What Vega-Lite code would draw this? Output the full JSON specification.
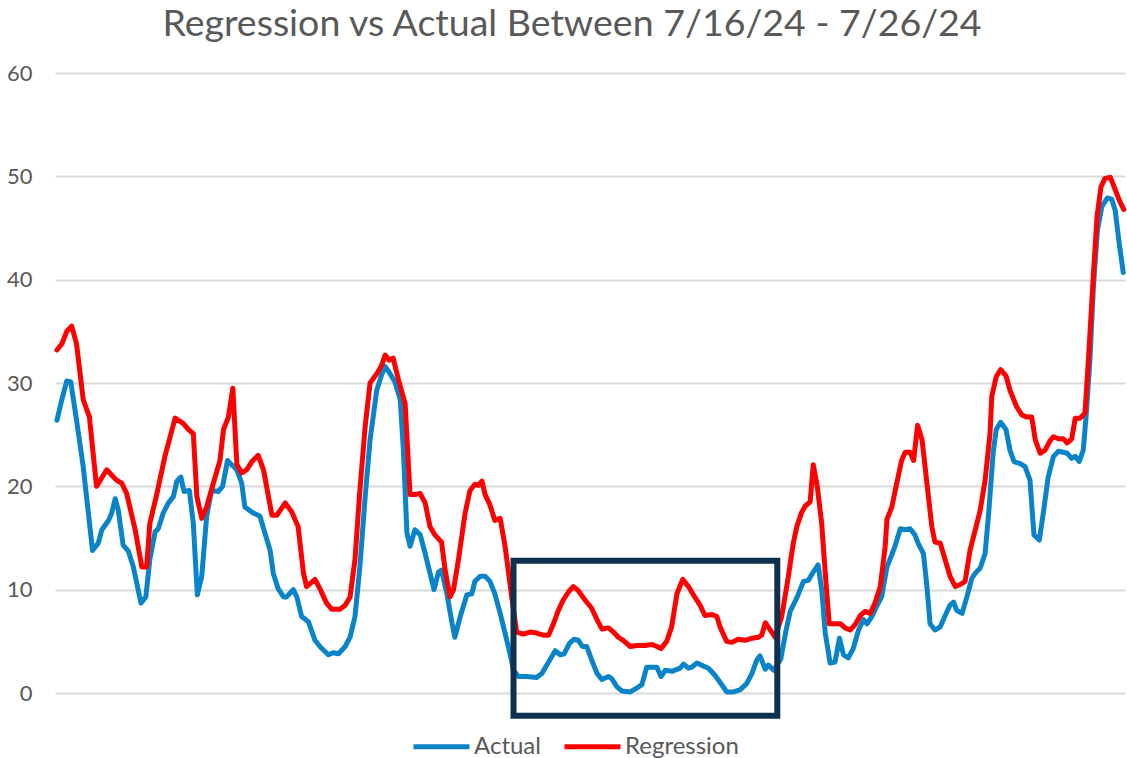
{
  "$schema": "https://vega.github.io/schema/vega-lite/v6.json",
  "width": 1070,
  "height": 620,
  "autosize": {"type": "none"},
  "padding": {"left": 55, "top": 73, "right": 2, "bottom": 65},
  "title": {
    "text": "Regression vs Actual Between 7/16/24 - 7/26/24",
    "font": "Lato",
    "fontSize": 37.5,
    "fontWeight": "normal",
    "color": "#595959",
    "anchor": "middle",
    "dx": -18,
    "offset": 19
  },
  "config": {
    "view": {"stroke": null},
    "font": "Lato"
  },
  "datasets": {
    "actual": [
      {"t":0,"v":26.4},{"t":1.1,"v":28.4},{"t":2.2,"v":30.2},{"t":3.1,"v":30.1},{"t":4.4,"v":26.4},{"t":5.9,"v":21.9},{"t":8.0,"v":13.8},{"t":9.3,"v":14.5},{"t":10.1,"v":15.8},{"t":11.6,"v":16.7},{"t":12.3,"v":17.4},{"t":13.1,"v":18.8},{"t":13.8,"v":17.7},{"t":14.9,"v":14.3},{"t":16.1,"v":13.7},{"t":17.2,"v":12.2},{"t":18.9,"v":8.7},{"t":20.0,"v":9.3},{"t":20.9,"v":12.9},{"t":22.1,"v":15.6},{"t":22.8,"v":15.9},{"t":23.9,"v":17.4},{"t":25.1,"v":18.4},{"t":26.2,"v":19.0},{"t":27.0,"v":20.5},{"t":27.9,"v":20.9},{"t":28.6,"v":19.5},{"t":29.8,"v":19.6},{"t":30.7,"v":16.4},{"t":31.6,"v":9.5},{"t":32.6,"v":11.3},{"t":33.7,"v":17.1},{"t":34.8,"v":19.6},{"t":36.3,"v":19.5},{"t":37.3,"v":20.0},{"t":38.4,"v":22.5},{"t":39.3,"v":22.1},{"t":40.5,"v":21.6},{"t":41.6,"v":20.3},{"t":42.3,"v":18.0},{"t":43.9,"v":17.5},{"t":45.7,"v":17.1},{"t":46.8,"v":15.5},{"t":48.0,"v":13.8},{"t":48.7,"v":11.6},{"t":49.8,"v":10.1},{"t":51.0,"v":9.3},{"t":51.7,"v":9.3},{"t":53.2,"v":10.0},{"t":54.0,"v":9.3},{"t":55.1,"v":7.4},{"t":56.6,"v":6.9},{"t":58.1,"v":5.1},{"t":59.2,"v":4.5},{"t":61.1,"v":3.7},{"t":62.2,"v":3.9},{"t":63.4,"v":3.8},{"t":64.9,"v":4.5},{"t":66.0,"v":5.4},{"t":67.1,"v":7.4},{"t":68.2,"v":12.2},{"t":69.4,"v":19.0},{"t":70.5,"v":24.5},{"t":72.0,"v":29.3},{"t":73.1,"v":30.8},{"t":73.9,"v":31.6},{"t":75.0,"v":30.9},{"t":76.1,"v":30.1},{"t":77.3,"v":28.4},{"t":78.0,"v":23.5},{"t":78.8,"v":15.5},{"t":79.5,"v":14.2},{"t":80.6,"v":15.8},{"t":81.8,"v":15.3},{"t":82.9,"v":13.5},{"t":84.0,"v":11.6},{"t":84.9,"v":10.0},{"t":85.9,"v":11.7},{"t":86.6,"v":11.9},{"t":87.8,"v":9.6},{"t":88.9,"v":6.9},{"t":89.6,"v":5.4},{"t":90.8,"v":7.4},{"t":92.3,"v":9.5},{"t":93.4,"v":9.6},{"t":94.1,"v":10.8},{"t":95.3,"v":11.3},{"t":96.4,"v":11.3},{"t":97.5,"v":10.8},{"t":98.6,"v":9.6},{"t":99.8,"v":7.7},{"t":100.9,"v":5.8},{"t":102.0,"v":3.8},{"t":102.8,"v":2.2},{"t":103.9,"v":1.6},{"t":105.8,"v":1.6},{"t":108.0,"v":1.5},{"t":109.2,"v":1.9},{"t":110.3,"v":2.7},{"t":111.4,"v":3.5},{"t":112.2,"v":4.1},{"t":113.3,"v":3.7},{"t":114.2,"v":3.8},{"t":115.4,"v":4.8},{"t":116.4,"v":5.2},{"t":117.4,"v":5.1},{"t":118.3,"v":4.5},{"t":119.3,"v":4.5},{"t":120.4,"v":3.2},{"t":121.6,"v":1.9},{"t":122.7,"v":1.3},{"t":124.2,"v":1.6},{"t":124.9,"v":1.4},{"t":126.1,"v":0.6},{"t":127.2,"v":0.2},{"t":129.1,"v":0.1},{"t":130.6,"v":0.5},{"t":131.7,"v":0.8},{"t":132.8,"v":2.5},{"t":134.3,"v":2.5},{"t":135.1,"v":2.5},{"t":136.0,"v":1.6},{"t":137.0,"v":2.2},{"t":138.5,"v":2.1},{"t":140.3,"v":2.4},{"t":141.1,"v":2.8},{"t":142.2,"v":2.4},{"t":142.9,"v":2.5},{"t":144.1,"v":2.9},{"t":145.6,"v":2.6},{"t":146.7,"v":2.4},{"t":148.2,"v":1.7},{"t":149.7,"v":0.8},{"t":150.8,"v":0.1},{"t":152.3,"v":0.1},{"t":153.8,"v":0.3},{"t":155.3,"v":0.9},{"t":156.5,"v":1.9},{"t":157.6,"v":3.2},{"t":158.3,"v":3.6},{"t":159.5,"v":2.3},{"t":160.2,"v":2.7},{"t":161.4,"v":2.2},{"t":163.0,"v":3.3},{"t":164.1,"v":5.9},{"t":165.1,"v":7.9},{"t":166.6,"v":9.2},{"t":168.1,"v":10.8},{"t":169.2,"v":10.9},{"t":170.3,"v":11.7},{"t":171.4,"v":12.4},{"t":172.2,"v":10.0},{"t":173.0,"v":5.8},{"t":174.1,"v":2.9},{"t":175.2,"v":3.0},{"t":176.2,"v":5.3},{"t":177.1,"v":3.7},{"t":178.2,"v":3.4},{"t":179.3,"v":4.3},{"t":180.5,"v":6.1},{"t":181.6,"v":7.1},{"t":182.4,"v":6.7},{"t":183.5,"v":7.4},{"t":184.6,"v":8.4},{"t":185.7,"v":9.3},{"t":186.9,"v":12.2},{"t":188.0,"v":13.4},{"t":188.7,"v":14.2},{"t":189.9,"v":15.9},{"t":191.0,"v":15.8},{"t":192.1,"v":15.9},{"t":193.2,"v":15.3},{"t":193.9,"v":14.5},{"t":195.1,"v":13.5},{"t":195.9,"v":10.3},{"t":196.6,"v":6.7},{"t":197.7,"v":6.1},{"t":198.9,"v":6.4},{"t":200.0,"v":7.5},{"t":201.1,"v":8.5},{"t":201.9,"v":8.8},{"t":202.6,"v":8.0},{"t":203.8,"v":7.7},{"t":204.9,"v":9.3},{"t":206.0,"v":11.1},{"t":206.8,"v":11.6},{"t":207.9,"v":12.1},{"t":209.0,"v":13.5},{"t":209.8,"v":17.4},{"t":210.8,"v":23.2},{"t":211.5,"v":25.5},{"t":212.5,"v":26.2},{"t":213.7,"v":25.5},{"t":214.6,"v":23.5},{"t":215.5,"v":22.4},{"t":216.9,"v":22.2},{"t":218.0,"v":21.9},{"t":219.1,"v":20.6},{"t":220.0,"v":15.3},{"t":221.2,"v":14.8},{"t":222.1,"v":17.4},{"t":223.2,"v":20.9},{"t":224.4,"v":22.9},{"t":225.5,"v":23.4},{"t":226.6,"v":23.3},{"t":227.5,"v":23.2},{"t":228.5,"v":22.7},{"t":229.3,"v":22.9},{"t":230.2,"v":22.4},{"t":231.1,"v":23.5},{"t":231.8,"v":27.1},{"t":232.6,"v":32.2},{"t":233.4,"v":39.4},{"t":234.3,"v":44.8},{"t":235.3,"v":47.1},{"t":236.5,"v":47.9},{"t":237.5,"v":47.8},{"t":238.3,"v":46.7},{"t":239.2,"v":43.5},{"t":240.1,"v":40.7}
    ],
    "regression": [
      {"t":0,"v":33.2},{"t":1.1,"v":33.8},{"t":2.2,"v":35.0},{"t":3.3,"v":35.5},{"t":4.4,"v":33.8},{"t":5.9,"v":28.4},{"t":7.3,"v":26.7},{"t":8.9,"v":20.0},{"t":11.2,"v":21.6},{"t":12.3,"v":21.1},{"t":13.4,"v":20.6},{"t":14.6,"v":20.3},{"t":15.7,"v":19.3},{"t":17.6,"v":15.8},{"t":19.1,"v":12.2},{"t":20.2,"v":12.2},{"t":20.9,"v":16.4},{"t":22.5,"v":19.3},{"t":24.3,"v":22.9},{"t":26.6,"v":26.6},{"t":28.4,"v":26.1},{"t":29.6,"v":25.5},{"t":30.7,"v":25.1},{"t":31.5,"v":19.0},{"t":32.6,"v":16.9},{"t":33.7,"v":18.0},{"t":35.2,"v":20.3},{"t":36.7,"v":22.5},{"t":37.5,"v":25.5},{"t":38.6,"v":26.7},{"t":39.6,"v":29.5},{"t":40.5,"v":22.1},{"t":41.6,"v":21.3},{"t":42.7,"v":21.6},{"t":43.9,"v":22.4},{"t":45.3,"v":23.0},{"t":46.5,"v":21.6},{"t":48.4,"v":17.2},{"t":49.5,"v":17.2},{"t":51.4,"v":18.4},{"t":52.9,"v":17.5},{"t":54.3,"v":16.1},{"t":55.5,"v":11.6},{"t":56.2,"v":10.3},{"t":58.1,"v":11.0},{"t":59.2,"v":10.1},{"t":60.7,"v":8.7},{"t":61.9,"v":8.1},{"t":63.7,"v":8.1},{"t":64.9,"v":8.5},{"t":66.0,"v":9.3},{"t":67.1,"v":12.9},{"t":68.2,"v":19.6},{"t":69.4,"v":25.8},{"t":70.5,"v":30.0},{"t":72.0,"v":30.9},{"t":73.1,"v":31.7},{"t":73.9,"v":32.7},{"t":74.8,"v":32.2},{"t":75.7,"v":32.4},{"t":76.9,"v":30.3},{"t":78.4,"v":28.0},{"t":79.5,"v":19.2},{"t":80.6,"v":19.2},{"t":81.8,"v":19.3},{"t":82.9,"v":18.4},{"t":84.0,"v":16.1},{"t":85.1,"v":15.3},{"t":86.6,"v":14.6},{"t":87.4,"v":11.9},{"t":88.5,"v":9.3},{"t":89.3,"v":10.0},{"t":90.4,"v":12.9},{"t":91.9,"v":17.4},{"t":93.0,"v":19.6},{"t":94.1,"v":20.2},{"t":94.9,"v":20.1},{"t":95.7,"v":20.5},{"t":96.4,"v":19.2},{"t":97.5,"v":18.2},{"t":98.6,"v":16.7},{"t":99.8,"v":16.9},{"t":100.9,"v":14.2},{"t":102.4,"v":9.3},{"t":103.5,"v":5.9},{"t":105.0,"v":5.7},{"t":106.5,"v":5.9},{"t":108.0,"v":5.8},{"t":109.5,"v":5.6},{"t":110.7,"v":5.6},{"t":111.8,"v":6.7},{"t":112.9,"v":8.0},{"t":114.0,"v":9.0},{"t":115.2,"v":9.8},{"t":116.3,"v":10.3},{"t":117.4,"v":9.9},{"t":118.9,"v":9.0},{"t":120.4,"v":8.2},{"t":121.6,"v":7.1},{"t":122.7,"v":6.2},{"t":124.2,"v":6.3},{"t":125.3,"v":5.9},{"t":126.4,"v":5.4},{"t":127.5,"v":5.1},{"t":129.1,"v":4.5},{"t":130.6,"v":4.6},{"t":132.4,"v":4.6},{"t":133.9,"v":4.7},{"t":135.1,"v":4.5},{"t":136.0,"v":4.3},{"t":137.3,"v":5.0},{"t":138.4,"v":6.4},{"t":139.6,"v":9.6},{"t":140.9,"v":11.0},{"t":142.2,"v":10.3},{"t":143.3,"v":9.5},{"t":144.8,"v":8.5},{"t":145.9,"v":7.5},{"t":147.5,"v":7.6},{"t":148.6,"v":7.4},{"t":149.3,"v":6.4},{"t":150.8,"v":5.0},{"t":152.0,"v":4.9},{"t":153.4,"v":5.2},{"t":155.0,"v":5.1},{"t":156.5,"v":5.3},{"t":158.0,"v":5.4},{"t":158.7,"v":5.6},{"t":159.5,"v":6.8},{"t":160.6,"v":6.1},{"t":161.7,"v":5.4},{"t":163.2,"v":7.4},{"t":164.7,"v":11.3},{"t":165.8,"v":14.5},{"t":166.6,"v":16.1},{"t":167.7,"v":17.5},{"t":168.5,"v":18.1},{"t":169.6,"v":18.5},{"t":170.3,"v":22.1},{"t":171.2,"v":20.0},{"t":172.2,"v":16.4},{"t":173.0,"v":11.6},{"t":173.9,"v":6.7},{"t":175.2,"v":6.7},{"t":176.4,"v":6.7},{"t":177.5,"v":6.3},{"t":178.6,"v":6.1},{"t":179.7,"v":6.6},{"t":180.9,"v":7.5},{"t":182.0,"v":7.9},{"t":183.1,"v":7.7},{"t":184.2,"v":8.7},{"t":185.4,"v":10.3},{"t":186.5,"v":14.2},{"t":186.9,"v":16.8},{"t":188.0,"v":18.0},{"t":189.1,"v":20.3},{"t":190.2,"v":22.5},{"t":191.0,"v":23.3},{"t":192.1,"v":23.3},{"t":192.9,"v":22.5},{"t":193.8,"v":25.9},{"t":194.8,"v":24.5},{"t":195.9,"v":20.3},{"t":197.0,"v":16.1},{"t":197.7,"v":14.6},{"t":198.9,"v":14.5},{"t":200.0,"v":12.9},{"t":201.1,"v":11.3},{"t":202.3,"v":10.3},{"t":203.4,"v":10.5},{"t":204.5,"v":10.8},{"t":205.6,"v":13.8},{"t":206.8,"v":15.8},{"t":207.9,"v":17.7},{"t":209.0,"v":20.6},{"t":210.1,"v":25.1},{"t":210.5,"v":28.7},{"t":211.5,"v":30.6},{"t":212.5,"v":31.3},{"t":213.7,"v":30.7},{"t":214.6,"v":29.3},{"t":216.1,"v":27.7},{"t":217.3,"v":26.9},{"t":218.4,"v":26.7},{"t":219.5,"v":26.7},{"t":220.3,"v":24.5},{"t":221.4,"v":23.2},{"t":222.5,"v":23.5},{"t":223.6,"v":24.4},{"t":224.4,"v":24.8},{"t":225.5,"v":24.6},{"t":226.6,"v":24.6},{"t":227.5,"v":24.2},{"t":228.5,"v":24.6},{"t":229.3,"v":26.6},{"t":230.4,"v":26.6},{"t":231.5,"v":27.1},{"t":232.3,"v":32.5},{"t":233.4,"v":40.6},{"t":234.2,"v":46.1},{"t":235.1,"v":49.0},{"t":236.0,"v":49.8},{"t":237.2,"v":49.9},{"t":238.3,"v":48.7},{"t":239.2,"v":47.7},{"t":240.2,"v":46.8}
    ],
    "box": [
      {"t0":102.8,"t1":162.2,"v0":12.8,"v1":-2.2}
    ]
  },
  "layer": [
    {
      "data": {"name": "actual"},
      "mark": {"type": "line", "strokeWidth": 5, "strokeJoin": "round", "strokeCap": "round"},
      "encoding": {
        "x": {"field": "t", "type": "quantitative", "scale": {"domain": [-0.45, 240.5], "nice": false, "zero": false}, "axis": null},
        "y": {"field": "v", "type": "quantitative", "scale": {"domain": [0, 60], "nice": false},
          "axis": {"values": [0,10,20,30,40,50,60], "title": null, "domain": false, "ticks": false, "grid": true, "gridColor": "#d9d9d9", "gridWidth": 2, "labelColor": "#595959", "labelFont": "Lato", "labelFontSize": 22, "labelPadding": 23}},
        "color": {"datum": "Actual", "type": "nominal",
          "scale": {"domain": ["Actual", "Regression"], "range": ["#0A84C8", "#FF0000"]},
          "legend": {"title": null, "orient": "none", "direction": "horizontal", "legendX": 356, "legendY": 643,
            "symbolType": "stroke", "symbolSize": 3136, "symbolStrokeWidth": 5, "labelFont": "Lato", "labelFontSize": 24, "labelColor": "#595959", "labelOffset": 2, "columnPadding": 13}}
      }
    },
    {
      "data": {"name": "regression"},
      "mark": {"type": "line", "strokeWidth": 5, "strokeJoin": "round", "strokeCap": "round"},
      "encoding": {
        "x": {"field": "t", "type": "quantitative"},
        "y": {"field": "v", "type": "quantitative"},
        "color": {"datum": "Regression", "type": "nominal"}
      }
    },
    {
      "data": {"name": "box"},
      "mark": {"type": "rect", "filled": false, "stroke": "#0E2F4D", "strokeWidth": 6},
      "encoding": {
        "x": {"field": "t0", "type": "quantitative"},
        "x2": {"field": "t1"},
        "y": {"field": "v0", "type": "quantitative"},
        "y2": {"field": "v1"}
      }
    }
  ]
}
